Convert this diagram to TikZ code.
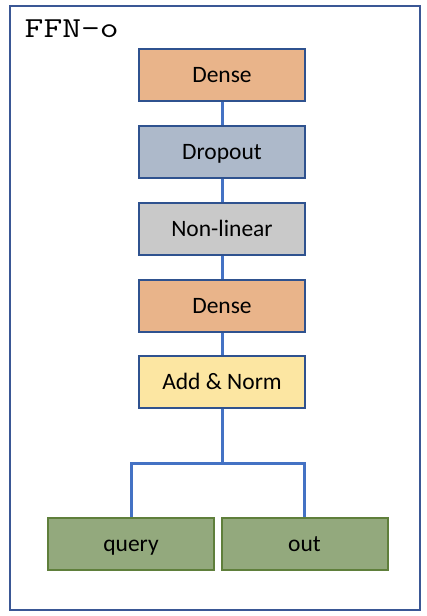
\documentclass[tikz,border=0pt]{standalone}
\usepackage{fontspec}
\setmainfont{Carlito}
\newfontfamily\monofont[FakeStretch=1.26]{Latin Modern Mono}
\usetikzlibrary{positioning}

\definecolor{framecol}{HTML}{3A5795}
\definecolor{edgecol}{HTML}{2F528F}
\definecolor{linkcol}{HTML}{4472C4}
\definecolor{densecol}{HTML}{E9B48A}
\definecolor{dropcol}{HTML}{ADB9CA}
\definecolor{nonlincol}{HTML}{C9C9C9}
\definecolor{normcol}{HTML}{FCE6A2}
\definecolor{greencol}{HTML}{93A97D}
\definecolor{greenedge}{HTML}{5F7F3B}

\tikzset{
    layer/.style={draw=edgecol, line width=2pt, minimum width=166pt, minimum height=52pt,
        inner sep=0pt, text height=15pt, text depth=0pt, font=\fontsize{23.5}{27}\selectfont},
    inbox/.style={layer, draw=greenedge, fill=greencol},
    link/.style={draw=linkcol, line width=3pt}
}

\begin{document}
\begin{tikzpicture}[x=1pt, y=-1pt]
    \useasboundingbox (0,0) rectangle (426,616);
    % Frame
    \draw[framecol, line width=2.5pt] (10,6) rectangle (420,610);
    \node[anchor=base west, inner sep=0pt, font=\monofont\fontsize{29}{32}\selectfont] (title) at (24.5,37) {FFN-o};

    % Layers
    \node[layer, fill=densecol] (dense1) at (222,75) {Dense};
    \node[layer, fill=dropcol] (dropout) at (222,152) {Dropout};
    \node[layer, fill=nonlincol] (nonlinear) at (222,228.5) {Non-linear};
    \node[layer, fill=densecol] (dense2) at (222,305.5) {Dense};
    \node[layer, fill=normcol] (addnorm) at (222,381.5) {Add \& Norm};

    % Inputs
    \node[inbox] (query) at (131,544) {query};
    \node[inbox] (out) at (304.5,544) {out};
    \coordinate (split) at (222,463);

    % Links
    \draw[link] (dense1) -- (dropout);
    \draw[link] (dropout) -- (nonlinear);
    \draw[link] (nonlinear) -- (dense2);
    \draw[link] (dense2) -- (addnorm);
    \draw[link] (addnorm) -- (split);
    \draw[link] (split) -| (query);
    \draw[link] (split) -| (out);
\end{tikzpicture}
\end{document}
